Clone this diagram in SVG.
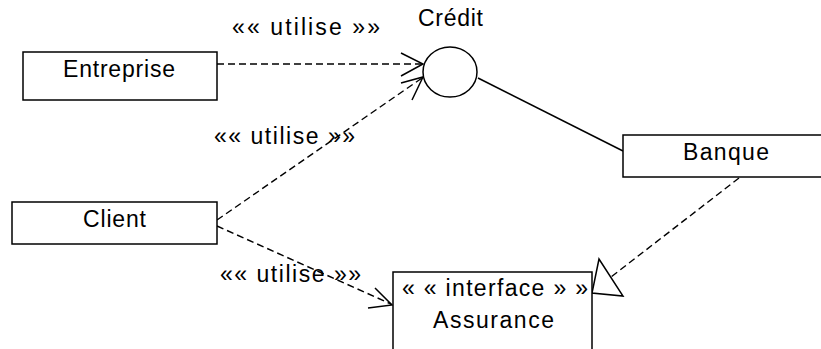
<svg xmlns="http://www.w3.org/2000/svg" width="821" height="349" viewBox="0 0 821 349">
<style>
.box{fill:#fff;stroke:#000;stroke-width:1.5}
.t{font-family:"Liberation Sans",Arial,sans-serif;font-size:23px;fill:#000}
.dash{fill:none;stroke:#000;stroke-width:1.4;stroke-dasharray:7 4}
.solid{fill:none;stroke:#000;stroke-width:1.5}
</style>
<rect width="821" height="349" fill="#fff"/>
<g id="connectors">
<line class="dash" x1="217" y1="64" x2="422" y2="64"/>
<polyline class="solid" points="401,53 423,64 401,76"/>
<line class="dash" x1="217" y1="220" x2="422" y2="78"/>
<polyline class="solid" points="401,83 423,77 412,100"/>
<line class="dash" x1="217" y1="226" x2="391" y2="304"/>
<polyline class="solid" points="375,288 392,305 368,308"/>
<line class="solid" x1="478" y1="78" x2="623" y2="151"/>
<line class="dash" x1="739" y1="178" x2="611" y2="277"/>
<polygon class="solid" points="599,259 592,293 623,296" fill="#fff"/>
<text class="t" x="232" y="35" textLength="148" lengthAdjust="spacing">«« utilise »»</text>
<text class="t" x="214" y="144" textLength="141" lengthAdjust="spacing">«« utilise »»</text>
<text class="t" x="220" y="282" textLength="141" lengthAdjust="spacing">«« utilise »»</text>
</g>
<g id="entreprise">
<rect class="box" x="23" y="52" width="194" height="48"/>
<text class="t" x="63" y="77" textLength="112" lengthAdjust="spacing">Entreprise</text>
</g>
<g id="credit">
<ellipse class="box" cx="450" cy="72" rx="27" ry="25"/>
<text class="t" x="418" y="26" textLength="65" lengthAdjust="spacing">Crédit</text>
</g>
<g id="client">
<rect class="box" x="12" y="202" width="205" height="42"/>
<text class="t" x="83" y="227" textLength="63" lengthAdjust="spacing">Client</text>
</g>
<g id="banque">
<rect class="box" x="623" y="135" width="200" height="42"/>
<text class="t" x="683" y="160" textLength="86" lengthAdjust="spacing">Banque</text>
</g>
<g id="assurance">
<rect class="box" x="393" y="272" width="199" height="80"/>
<text class="t" x="402" y="296" textLength="186" lengthAdjust="spacing">« « interface » »</text>
<text class="t" x="433" y="328" textLength="121" lengthAdjust="spacing">Assurance</text>
</g>
</svg>
